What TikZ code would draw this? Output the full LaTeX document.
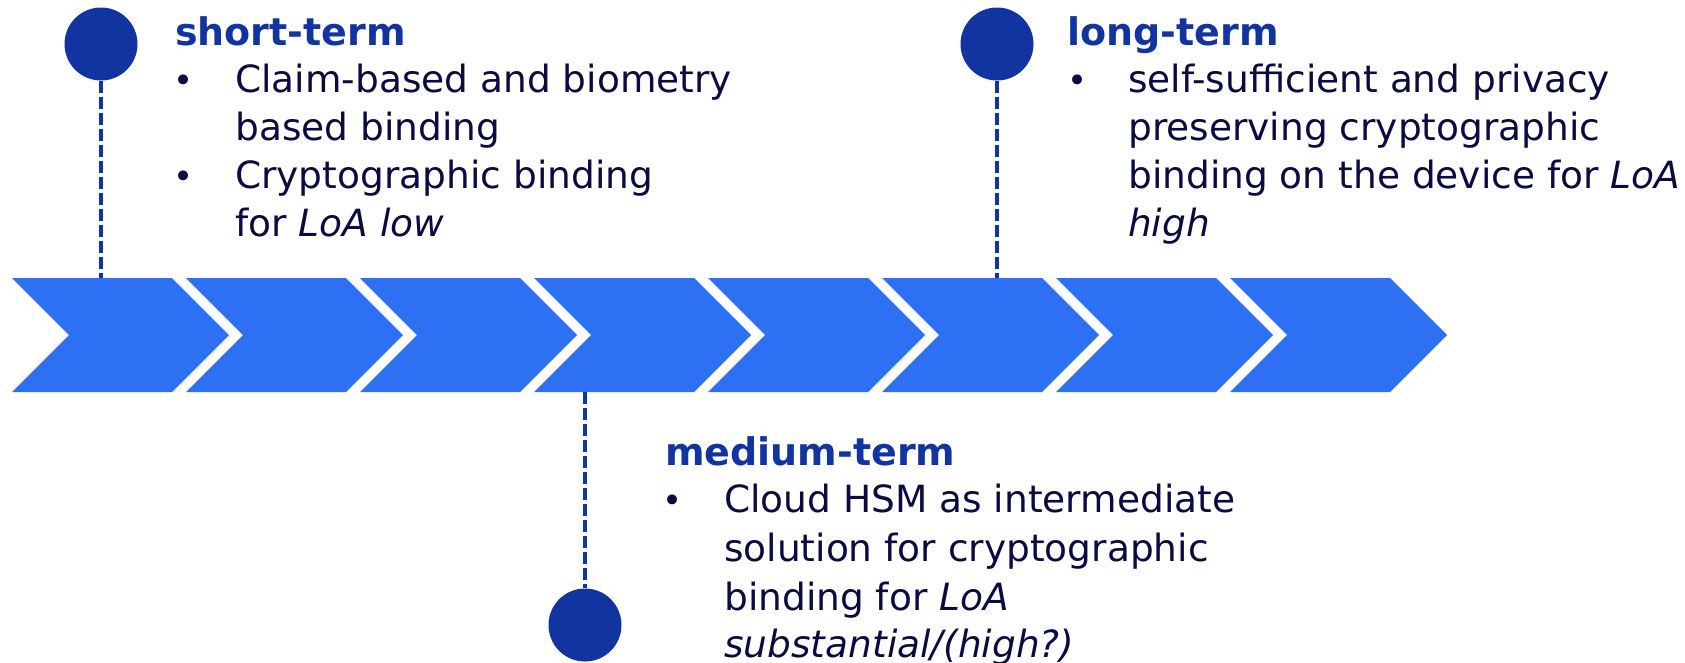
\documentclass[tikz,border=0pt]{standalone}
\usepackage{fontspec}
\setmainfont{DejaVu Sans}
\begin{document}
\begin{tikzpicture}[x=1pt,y=-1pt]
\definecolor{bandblue}{HTML}{2D70F3}
\definecolor{pinblue}{HTML}{1234A0}
\definecolor{inktext}{HTML}{0A0B40}
\tikzset{
  chev/.style={fill=bandblue, draw=none},
  dot/.style={circle, fill=pinblue, draw=none, minimum size=73pt, inner sep=0pt},
  pinline/.style={draw=pinblue, line width=3.8pt, dash pattern=on 12pt off 4pt},
  heading/.style={anchor=base west, inner sep=0pt, text=pinblue,
    font=\fontsize{38}{46}\selectfont\bfseries},
  bul/.style={anchor=base west, inner sep=0pt, text=inktext,
    font=\fontsize{34}{48}\selectfont},
  txt/.style={anchor=base west, inner sep=0pt, text=inktext,
    font=\fontsize{37.5}{48}\selectfont},
}
\useasboundingbox[fill=white] (0,0) rectangle (1685,662);

% chevron band
\foreach \i in {0,...,7}{
  \pgfmathsetmacro{\xl}{12+174*\i}
  \pgfmathsetmacro{\xr}{\xl+160}
  \fill[chev] (\xl,278) -- (\xr,278) -- (\xr+57,335) -- (\xr,392)
    -- (\xl,392) -- (\xl+57,335) -- cycle;
}

% pins
\node[dot] (c1) at (101,44) {};
\coordinate (b1) at (101,278);
\draw[pinline] (c1.south) -- (b1);

\node[dot] (c3) at (997,44) {};
\coordinate (b3) at (997,278);
\draw[pinline] (c3.south) -- (b3);

\node[dot] (c2) at (585,625) {};
\coordinate (b2) at (585,392);
\draw[pinline] (b2) -- (c2.north);

% short-term
\node[heading] (h1) at (175,45) {short-term};
\node[bul] (p1a) at (173,92) {•};
\node[txt] (t1a) at (235,92) {Claim-based and biometry};
\node[txt] (t1b) at (235,140) {based binding};
\node[bul] (p1b) at (173,188) {•};
\node[txt] (t1c) at (235,188) {Cryptographic binding};
\node[txt] (t1d) at (235,236) {for \textit{LoA low}};

% long-term
\node[heading] (h3) at (1067,45) {long-term};
\node[bul] (p3a) at (1067,92) {•};
\node[txt] (t3a) at (1128,92) {self-sufficient and privacy};
\node[txt] (t3b) at (1128,140) {preserving cryptographic};
\node[txt] (t3c) at (1128,188) {binding on the device for \textit{LoA}};
\node[txt] (t3d) at (1128,236) {\textit{high}};

% medium-term
\node[heading] (h2) at (665,465) {medium-term};
\node[bul] (p2a) at (662,512) {•};
\node[txt] (t2a) at (724,512) {Cloud HSM as intermediate};
\node[txt] (t2b) at (724,561) {solution for cryptographic};
\node[txt] (t2c) at (724,610) {binding for \textit{LoA}};
\node[txt] (t2d) at (724,657) {\textit{substantial/(high?)}};
\end{tikzpicture}
\end{document}
